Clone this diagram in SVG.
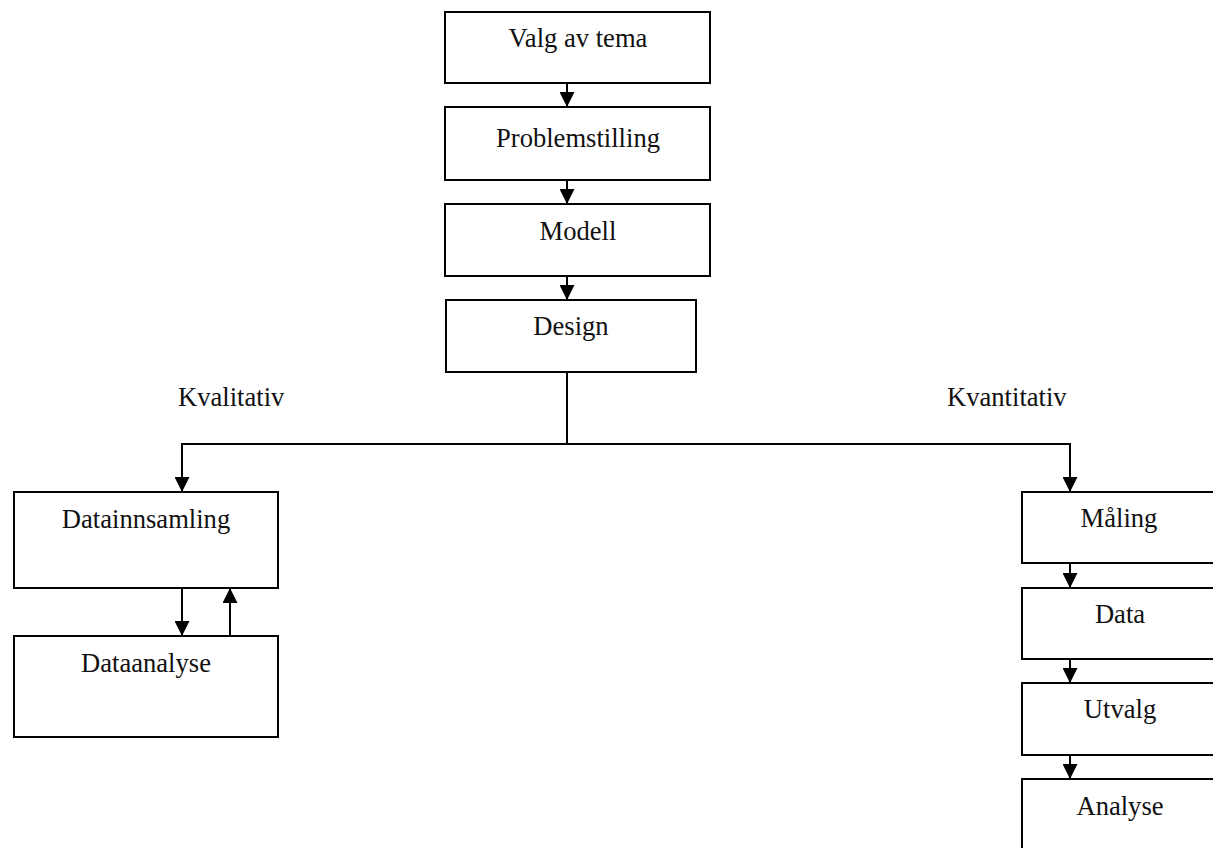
<svg xmlns="http://www.w3.org/2000/svg" width="1213" height="848" viewBox="0 0 1213 848">
  <style>
    .box { fill: #ffffff; stroke: #000000; stroke-width: 2; }
    .lbl { font-family: "Liberation Serif", "Times New Roman", serif; font-size: 26.6px; fill: #111111; text-anchor: middle; }
    .tag { font-family: "Liberation Serif", "Times New Roman", serif; font-size: 26.6px; fill: #111111; }
    .wire { fill: none; stroke: #000000; stroke-width: 2; }
  </style>
  <defs>
    <marker id="head" markerUnits="userSpaceOnUse" markerWidth="15" markerHeight="15" viewBox="0 0 15 15" refX="15" refY="7.5" orient="auto">
      <path d="M0,0 L15,7.5 L0,15 Z" fill="#000000"/>
    </marker>
  </defs>
  <rect width="1213" height="848" fill="#ffffff"/>

  <!-- connectors -->
  <g id="connectors">
    <path class="wire" d="M567,83 V107" marker-end="url(#head)"/>
    <path class="wire" d="M567,180 V204" marker-end="url(#head)"/>
    <path class="wire" d="M567,276 V300" marker-end="url(#head)"/>
    <path class="wire" d="M567,372 V444"/>
    <path class="wire" d="M182,444 H1070"/>
    <path class="wire" d="M182,443 V492" marker-end="url(#head)"/>
    <path class="wire" d="M1070,443 V492" marker-end="url(#head)"/>
    <path class="wire" d="M182,588 V636" marker-end="url(#head)"/>
    <path class="wire" d="M230,636 V588" marker-end="url(#head)"/>
    <path class="wire" d="M1070,563 V588" marker-end="url(#head)"/>
    <path class="wire" d="M1070,659 V683" marker-end="url(#head)"/>
    <path class="wire" d="M1070,755 V779" marker-end="url(#head)"/>
  </g>

  <!-- branch labels -->
  <g id="branch-labels">
    <text class="tag" x="178" y="406">Kvalitativ</text>
    <text class="tag" x="947" y="406">Kvantitativ</text>
  </g>

  <!-- main chain -->
  <g id="valg-av-tema">
    <rect class="box" x="445" y="12" width="265" height="71"/>
    <text class="lbl" x="578" y="47">Valg av tema</text>
  </g>
  <g id="problemstilling">
    <rect class="box" x="445" y="107" width="265" height="73"/>
    <text class="lbl" x="578" y="147">Problemstilling</text>
  </g>
  <g id="modell">
    <rect class="box" x="445" y="204" width="265" height="72"/>
    <text class="lbl" x="578" y="240">Modell</text>
  </g>
  <g id="design">
    <rect class="box" x="446" y="300" width="250" height="72"/>
    <text class="lbl" x="571" y="335">Design</text>
  </g>

  <!-- qualitative branch -->
  <g id="datainnsamling">
    <rect class="box" x="14" y="492" width="264" height="96"/>
    <text class="lbl" x="146" y="528">Datainnsamling</text>
  </g>
  <g id="dataanalyse">
    <rect class="box" x="14" y="636" width="264" height="101"/>
    <text class="lbl" x="146" y="672">Dataanalyse</text>
  </g>

  <!-- quantitative branch -->
  <g id="maling">
    <rect class="box" x="1022" y="492" width="196" height="71"/>
    <text class="lbl" x="1119" y="527">Måling</text>
  </g>
  <g id="data">
    <rect class="box" x="1022" y="588" width="196" height="71"/>
    <text class="lbl" x="1120" y="623">Data</text>
  </g>
  <g id="utvalg">
    <rect class="box" x="1022" y="683" width="196" height="72"/>
    <text class="lbl" x="1120" y="718">Utvalg</text>
  </g>
  <g id="analyse">
    <rect class="box" x="1022" y="779" width="196" height="80"/>
    <text class="lbl" x="1120" y="815">Analyse</text>
  </g>
</svg>
